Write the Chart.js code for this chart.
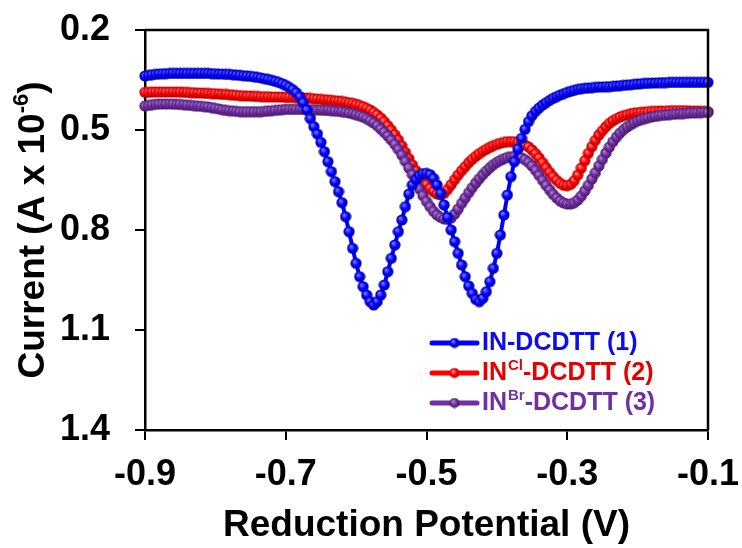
<!DOCTYPE html>
<html>
<head>
<meta charset="utf-8">
<script src="https://cdn.jsdelivr.net/npm/chart.js@4.4.0/dist/chart.umd.min.js"></script>
<style>
  html, body { margin: 0; padding: 0; background: #fff; }
</style>
</head>
<body>
<canvas id="myChart" width="742" height="548"></canvas>
<script>
// DATOS

// barrido de potencial: -0.9 V a -0.1 V cada 0.005 V
const potentialStart = -0.9;
const potentialStep = 0.005;
const xTicks = [-0.9, -0.7, -0.5, -0.3, -0.1];
const yTicks = [0.2, 0.5, 0.8, 1.1, 1.4];

// corriente (A x 10^-6), una fila = 0.05 V
const currentIN = [
  0.338, 0.336, 0.334, 0.333, 0.332, 0.331, 0.331, 0.330, 0.330, 0.330,
  0.330, 0.330, 0.330, 0.330, 0.330, 0.330, 0.330, 0.330, 0.330, 0.331,
  0.331, 0.332, 0.332, 0.333, 0.333, 0.334, 0.335, 0.336, 0.337, 0.338,
  0.339, 0.340, 0.342, 0.344, 0.346, 0.348, 0.351, 0.354, 0.357, 0.361,
  0.366, 0.372, 0.379, 0.388, 0.400, 0.418, 0.440, 0.466, 0.490, 0.512,
  0.537, 0.565, 0.595, 0.625, 0.655, 0.685, 0.718, 0.760, 0.805, 0.855,
  0.900, 0.940, 0.970, 0.995, 1.015, 1.025, 1.015, 0.995, 0.965, 0.925,
  0.885, 0.845, 0.805, 0.770, 0.730, 0.692, 0.665, 0.648, 0.637, 0.631,
  0.630, 0.634, 0.645, 0.665, 0.690, 0.725, 0.762, 0.800, 0.835, 0.870,
  0.905, 0.940, 0.968, 0.990, 1.008, 1.015, 1.005, 0.985, 0.955, 0.915,
  0.870, 0.815, 0.755, 0.695, 0.640, 0.595, 0.557, 0.525, 0.498, 0.475,
  0.457, 0.444, 0.434, 0.425, 0.418, 0.411, 0.405, 0.400, 0.395, 0.391,
  0.387, 0.384, 0.381, 0.378, 0.376, 0.375, 0.374, 0.373, 0.372, 0.371,
  0.371, 0.370, 0.370, 0.369, 0.368, 0.367, 0.366, 0.365, 0.364, 0.363,
  0.362, 0.361, 0.360, 0.360, 0.359, 0.359, 0.358, 0.358, 0.358, 0.357,
  0.357, 0.357, 0.357, 0.357, 0.357, 0.357, 0.357, 0.357, 0.357, 0.357,
  0.357
];

const currentINCl = [
  0.387, 0.387, 0.386, 0.386, 0.386, 0.386, 0.386, 0.386, 0.386, 0.386,
  0.386, 0.387, 0.387, 0.388, 0.388, 0.389, 0.389, 0.390, 0.390, 0.391,
  0.391, 0.392, 0.393, 0.393, 0.394, 0.395, 0.396, 0.397, 0.397, 0.398,
  0.398, 0.399, 0.399, 0.400, 0.400, 0.400, 0.401, 0.401, 0.401, 0.401,
  0.402, 0.402, 0.402, 0.403, 0.403, 0.404, 0.404, 0.405, 0.406, 0.407,
  0.408, 0.409, 0.410, 0.411, 0.412, 0.413, 0.414, 0.416, 0.418, 0.420,
  0.423, 0.426, 0.430, 0.435, 0.440, 0.447, 0.455, 0.464, 0.475, 0.487,
  0.500, 0.514, 0.530, 0.548, 0.567, 0.586, 0.605, 0.622, 0.638, 0.652,
  0.664, 0.675, 0.685, 0.692, 0.695, 0.690, 0.678, 0.664, 0.649, 0.635,
  0.622, 0.610, 0.598, 0.588, 0.579, 0.571, 0.564, 0.558, 0.552, 0.547,
  0.543, 0.540, 0.537, 0.535, 0.535, 0.535, 0.537, 0.540, 0.545, 0.551,
  0.560, 0.571, 0.584, 0.598, 0.613, 0.627, 0.640, 0.651, 0.660, 0.666,
  0.667, 0.663, 0.652, 0.635, 0.614, 0.592, 0.570, 0.550, 0.531, 0.515,
  0.502, 0.490, 0.480, 0.472, 0.466, 0.461, 0.457, 0.454, 0.451, 0.449,
  0.448, 0.447, 0.446, 0.445, 0.444, 0.444, 0.443, 0.443, 0.443, 0.442,
  0.442, 0.442, 0.442, 0.442, 0.442, 0.443, 0.443, 0.443, 0.444, 0.444,
  0.445
];

const currentINBr = [
  0.428, 0.426, 0.424, 0.423, 0.422, 0.422, 0.422, 0.422, 0.422, 0.423,
  0.423, 0.424, 0.425, 0.426, 0.427, 0.428, 0.429, 0.430, 0.431, 0.433,
  0.435, 0.437, 0.439, 0.441, 0.442, 0.443, 0.444, 0.445, 0.445, 0.445,
  0.445, 0.445, 0.445, 0.445, 0.444, 0.443, 0.442, 0.441, 0.440, 0.439,
  0.438, 0.438, 0.438, 0.438, 0.438, 0.438, 0.439, 0.439, 0.439, 0.440,
  0.440, 0.441, 0.441, 0.442, 0.443, 0.444, 0.445, 0.447, 0.449, 0.451,
  0.454, 0.457, 0.461, 0.466, 0.472, 0.479, 0.487, 0.497, 0.507, 0.518,
  0.530, 0.543, 0.558, 0.575, 0.594, 0.614, 0.634, 0.656, 0.677, 0.697,
  0.714, 0.730, 0.744, 0.755, 0.762, 0.767, 0.768, 0.764, 0.752, 0.737,
  0.720, 0.704, 0.688, 0.673, 0.659, 0.646, 0.634, 0.623, 0.613, 0.604,
  0.597, 0.591, 0.586, 0.582, 0.580, 0.579, 0.580, 0.583, 0.589, 0.597,
  0.608, 0.621, 0.636, 0.651, 0.666, 0.680, 0.693, 0.704, 0.713, 0.719,
  0.722, 0.722, 0.718, 0.710, 0.698, 0.683, 0.666, 0.647, 0.628, 0.608,
  0.588, 0.569, 0.551, 0.535, 0.521, 0.509, 0.499, 0.491, 0.484, 0.478,
  0.473, 0.469, 0.466, 0.463, 0.461, 0.459, 0.457, 0.456, 0.455, 0.454,
  0.453, 0.452, 0.451, 0.451, 0.450, 0.449, 0.449, 0.448, 0.448, 0.447,
  0.447
];

// leyenda: base, superindice, resto
const legendParts = [
  ['IN', '', '-DCDTT (1)'],
  ['IN', 'Cl', '-DCDTT (2)'],
  ['IN', 'Br', '-DCDTT (3)']
];
const xTitle = 'Reduction Potential (V)';
const yTitle = ['Current (A x 10', '-6', ')'];

const potential = currentIN.map((_, i) => +(potentialStart + i * potentialStep).toFixed(3));

// ESTILOS

const fontFamily = '"Liberation Sans", Arial, sans-serif';
// [base, brillo, sombra]
const blueCol = ['#0000ff', '#7c7cff', '#00009a'];
const redCol = ['#ff0000', '#ff8a8a', '#a80000'];
const purpleCol = ['#7030a0', '#ad82d2', '#401465'];
const legendTextCol = ['#0c0cee', '#e60000', '#7030a0'];

// esfera con brillo para cada punto
function bead(col, size) {
  const c = document.createElement('canvas');
  c.width = size; c.height = size;
  const g = c.getContext('2d');
  const r = size / 2;
  const grd = g.createRadialGradient(r * 0.72, r * 0.68, 0.4, r, r, r);
  grd.addColorStop(0, col[1]);
  grd.addColorStop(0.5, col[0]);
  grd.addColorStop(1, col[2]);
  g.fillStyle = grd;
  g.beginPath();
  g.arc(r, r, r - 0.4, 0, Math.PI * 2);
  g.fill();
  return c;
}

function makeSet(label, values, col, order) {
  return {
    label: label,
    order: order,
    data: values.map((y, i) => ({ x: potential[i], y: y })),
    borderColor: col[0],
    backgroundColor: col[0],
    borderWidth: 4,
    pointStyle: bead(col, 12),
    pointRadius: 6,
    pointHoverRadius: 6,
    tension: 0,
    clip: false
  };
}

// marco, titulo Y y leyenda con superindices
const extras = {
  id: 'extras',
  afterDraw(chart) {
    const { ctx, chartArea: a } = chart;
    ctx.save();

    ctx.strokeStyle = '#000';
    ctx.lineWidth = 2.5;
    ctx.beginPath();
    ctx.moveTo(a.left, a.top);
    ctx.lineTo(a.right, a.top);
    ctx.lineTo(a.right, a.bottom);
    ctx.stroke();

    // titulo eje Y
    const fMain = 'bold 37px ' + fontFamily;
    const fSup = 'bold 22px ' + fontFamily;
    ctx.save();
    ctx.translate(34, (a.top + a.bottom) / 2);
    ctx.rotate(-Math.PI / 2);
    ctx.fillStyle = '#000';
    ctx.textBaseline = 'middle';
    ctx.textAlign = 'left';
    ctx.font = fMain;
    const w1 = ctx.measureText(yTitle[0]).width;
    const w3 = ctx.measureText(yTitle[2]).width;
    ctx.font = fSup;
    const w2 = ctx.measureText(yTitle[1]).width;
    let tx = -(w1 + w2 + w3) / 2;
    ctx.font = fMain;
    ctx.fillText(yTitle[0], tx, 0);
    tx += w1;
    ctx.font = fSup;
    ctx.fillText(yTitle[1], tx, -12);
    tx += w2;
    ctx.font = fMain;
    ctx.fillText(yTitle[2], tx, 0);
    ctx.restore();

    // leyenda
    const cols = [blueCol, redCol, purpleCol];
    const lx0 = a.right - 276, lx1 = a.right - 231, tx0 = a.right - 226;
    legendParts.forEach((p, i) => {
      const y = a.top + 313 + i * 30;
      ctx.strokeStyle = cols[i][0];
      ctx.lineWidth = 5;
      ctx.lineCap = 'round';
      ctx.beginPath();
      ctx.moveTo(lx0, y);
      ctx.lineTo(lx1, y);
      ctx.stroke();
      const b = bead(cols[i], 11);
      ctx.drawImage(b, (lx0 + lx1) / 2 - 5.5, y - 5.5);

      ctx.fillStyle = legendTextCol[i];
      ctx.textBaseline = 'middle';
      ctx.textAlign = 'left';
      let x = tx0;
      ctx.font = 'bold 25px ' + fontFamily;
      ctx.fillText(p[0], x, y);
      x += ctx.measureText(p[0]).width;
      if (p[1]) {
        ctx.font = 'bold 15px ' + fontFamily;
        ctx.fillText(p[1], x + 1, y - 7);
        x += ctx.measureText(p[1]).width + 1;
      }
      ctx.font = 'bold 25px ' + fontFamily;
      ctx.fillText(p[2], x, y);
    });

    ctx.restore();
  }
};

const tickFont = { family: fontFamily, weight: 'bold', size: 36 };
const axisGrid = { drawOnChartArea: false, color: '#000', lineWidth: 2, tickLength: 10 };
const axisBorder = { color: '#000', width: 2.5 };

const ctx = document.getElementById('myChart').getContext('2d');
const myChart = new Chart(ctx, {
  type: 'line',
  data: {
    datasets: [
      makeSet('IN-DCDTT (1)', currentIN, blueCol, 0),
      makeSet('INCl-DCDTT (2)', currentINCl, redCol, 2),
      makeSet('INBr-DCDTT (3)', currentINBr, purpleCol, 1)
    ]
  },
  options: {
    responsive: false,
    animation: false,
    devicePixelRatio: 1,
    layout: { padding: { top: 30, right: 34, left: 0, bottom: 0 } },
    plugins: {
      legend: { display: false },
      tooltip: { enabled: false }
    },
    scales: {
      x: {
        type: 'linear',
        min: -0.9,
        max: -0.1,
        afterBuildTicks: s => { s.ticks = xTicks.map(v => ({ value: v })); },
        afterFit: s => { s.height = 118; s.paddingLeft = 0; s.paddingRight = 0; },
        ticks: {
          font: tickFont, color: '#000', padding: 13,
          maxRotation: 0, autoSkip: false,
          callback: v => v.toFixed(1)
        },
        grid: axisGrid,
        border: axisBorder,
        title: {
          display: true, text: xTitle, color: '#000', padding: 0,
          font: { family: fontFamily, weight: 'bold', size: 37 }
        }
      },
      y: {
        type: 'linear',
        reverse: true,
        min: 0.2,
        max: 1.4,
        afterBuildTicks: s => { s.ticks = yTicks.map(v => ({ value: v })); },
        afterFit: s => { s.width = 145; s.paddingTop = 0; s.paddingBottom = 0; },
        ticks: {
          font: tickFont, color: '#000', padding: 25,
          autoSkip: false,
          callback: v => v.toFixed(1)
        },
        grid: axisGrid,
        border: axisBorder
      }
    }
  },
  plugins: [extras]
});
</script>
</body>
</html>
